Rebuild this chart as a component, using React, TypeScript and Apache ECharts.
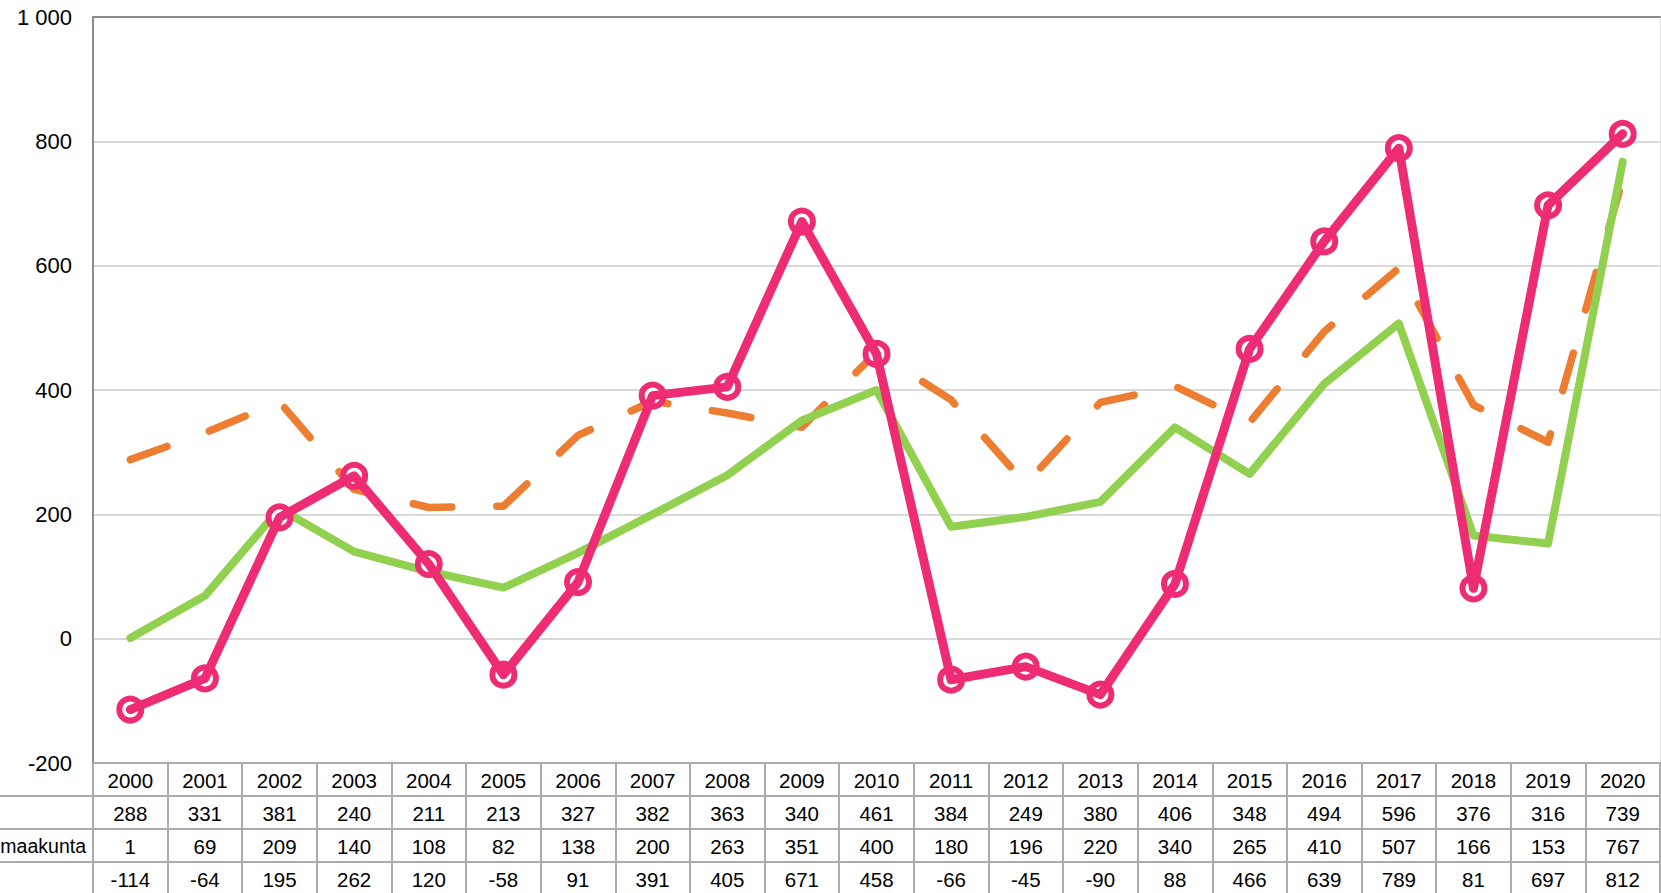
import React, { useEffect, useRef } from "react";
import * as echarts from "echarts";

const years = ["2000","2001","2002","2003","2004","2005","2006","2007","2008","2009","2010","2011","2012","2013","2014","2015","2016","2017","2018","2019","2020"];
const seriesOrange = [288,331,381,240,211,213,327,382,363,340,461,384,249,380,406,348,494,596,376,316,739];
const seriesGreen = [1,69,209,140,108,82,138,200,263,351,400,180,196,220,340,265,410,507,166,153,767];
const seriesPink = [-114,-64,195,262,120,-58,91,391,405,671,458,-66,-45,-90,88,466,639,789,81,697,812];
const rowLabels = ["", "maakunta", ""];
const yMin = -200;
const yMax = 1000;
const yStep = 200;

const ORANGE = "#ED7D31";
const GREEN = "#92D050";
const PINK = "#EE2C74";
const TABLE_LINE = "#ABABAB";
const BORDER = "#8C8C8C";
const FONT = "'Liberation Sans', Arial, sans-serif";

const W = 1661;
const H = 893;
const GRID_LEFT = 93;
const GRID_TOP = 17;
const GRID_BOTTOM = 130;
const ROW_H = 33;

function fmt(v: number): string {
  return String(v).replace(/\B(?=(\d{3})+(?!\d))/g, " ");
}

export default function App() {
  const ref = useRef<HTMLDivElement>(null);
  useEffect(() => {
    if (!ref.current) return;
    const chart = echarts.init(ref.current, null, { renderer: "svg" });
    const tableTop = H - GRID_BOTTOM;
    const rows = [years, seriesOrange.map(String), seriesGreen.map(String), seriesPink.map(String)];
    const xAxes: any[] = rows.map((data, i) => ({
      type: "category",
      gridIndex: 0,
      position: "bottom",
      offset: i * ROW_H,
      data,
      boundaryGap: true,
      axisLine: { show: true, onZero: false, lineStyle: { color: TABLE_LINE, width: 2 } },
      axisTick: { show: true, interval: 0, length: ROW_H, inside: false, alignWithLabel: false, lineStyle: { color: TABLE_LINE, width: 2 } },
      axisLabel: { show: true, interval: 0, fontSize: 20.5, color: "#000", fontFamily: FONT, margin: 7, lineHeight: 20 },
      splitLine: { show: false },
    }));
    xAxes.push({
      type: "category",
      gridIndex: 0,
      position: "top",
      data: years,
      axisLine: { show: true, onZero: false, lineStyle: { color: BORDER, width: 2 } },
      axisTick: { show: false },
      axisLabel: { show: false },
      splitLine: { show: false },
    });
    const graphics: any[] = [];
    for (let i = 1; i <= 3; i++) {
      graphics.push({
        type: "line",
        shape: { x1: 0, y1: tableTop + i * ROW_H, x2: GRID_LEFT, y2: tableTop + i * ROW_H },
        style: { stroke: TABLE_LINE, lineWidth: 2 },
      });
    }
    rowLabels.forEach((t, i) => {
      if (!t) return;
      graphics.push({
        type: "text",
        x: 86,
        y: tableTop + (i + 1) * ROW_H + ROW_H / 2,
        style: { text: t, fontSize: 19.5, fill: "#000", fontFamily: FONT, align: "right", verticalAlign: "middle" },
      });
    });
    chart.setOption({
      animation: false,
      backgroundColor: "#fff",
      grid: { left: GRID_LEFT, right: 1, top: GRID_TOP, bottom: GRID_BOTTOM, containLabel: false },
      xAxis: xAxes,
      yAxis: [
        {
          type: "value",
          min: yMin,
          max: yMax,
          interval: yStep,
          axisLine: { show: true, onZero: false, lineStyle: { color: BORDER, width: 2 } },
          axisTick: { show: false },
          axisLabel: { fontSize: 22, color: "#000", fontFamily: FONT, margin: 21, formatter: (v: number) => fmt(v) },
          splitLine: { show: true, showMinLine: false, showMaxLine: false, lineStyle: { color: "#D9D9D9", width: 2 } },
        },
        {
          type: "value",
          position: "right",
          min: yMin,
          max: yMax,
          interval: yStep,
          axisLine: { show: true, onZero: false, lineStyle: { color: "#E0E0E0", width: 1 } },
          axisTick: { show: false },
          axisLabel: { show: false },
          splitLine: { show: false },
        },
      ],
      graphic: graphics,
      series: [
        {
          type: "line",
          xAxisIndex: 0,
          yAxisIndex: 0,
          data: seriesOrange,
          symbol: "none",
          z: 2,
          lineStyle: { color: ORANGE, width: 7.5, type: [39, 45], cap: "round", join: "round" },
        },
        {
          type: "line",
          xAxisIndex: 0,
          yAxisIndex: 0,
          data: seriesGreen,
          symbol: "none",
          z: 3,
          lineStyle: { color: GREEN, width: 8, cap: "round", join: "round" },
        },
        {
          type: "line",
          xAxisIndex: 0,
          yAxisIndex: 0,
          data: seriesPink,
          symbol: "circle",
          symbolSize: 22,
          z: 4,
          itemStyle: { color: "#fff", borderColor: PINK, borderWidth: 6 },
          lineStyle: { width: 0, opacity: 0 },
        },
        {
          type: "line",
          xAxisIndex: 0,
          yAxisIndex: 0,
          data: seriesPink,
          symbol: "none",
          z: 5,
          lineStyle: { color: PINK, width: 9, cap: "round", join: "round" },
        },
      ],
    });
    return () => chart.dispose();
  }, []);
  return <div ref={ref} style={{ position: "absolute", left: 0, top: 0, width: W, height: H }} />;
}
